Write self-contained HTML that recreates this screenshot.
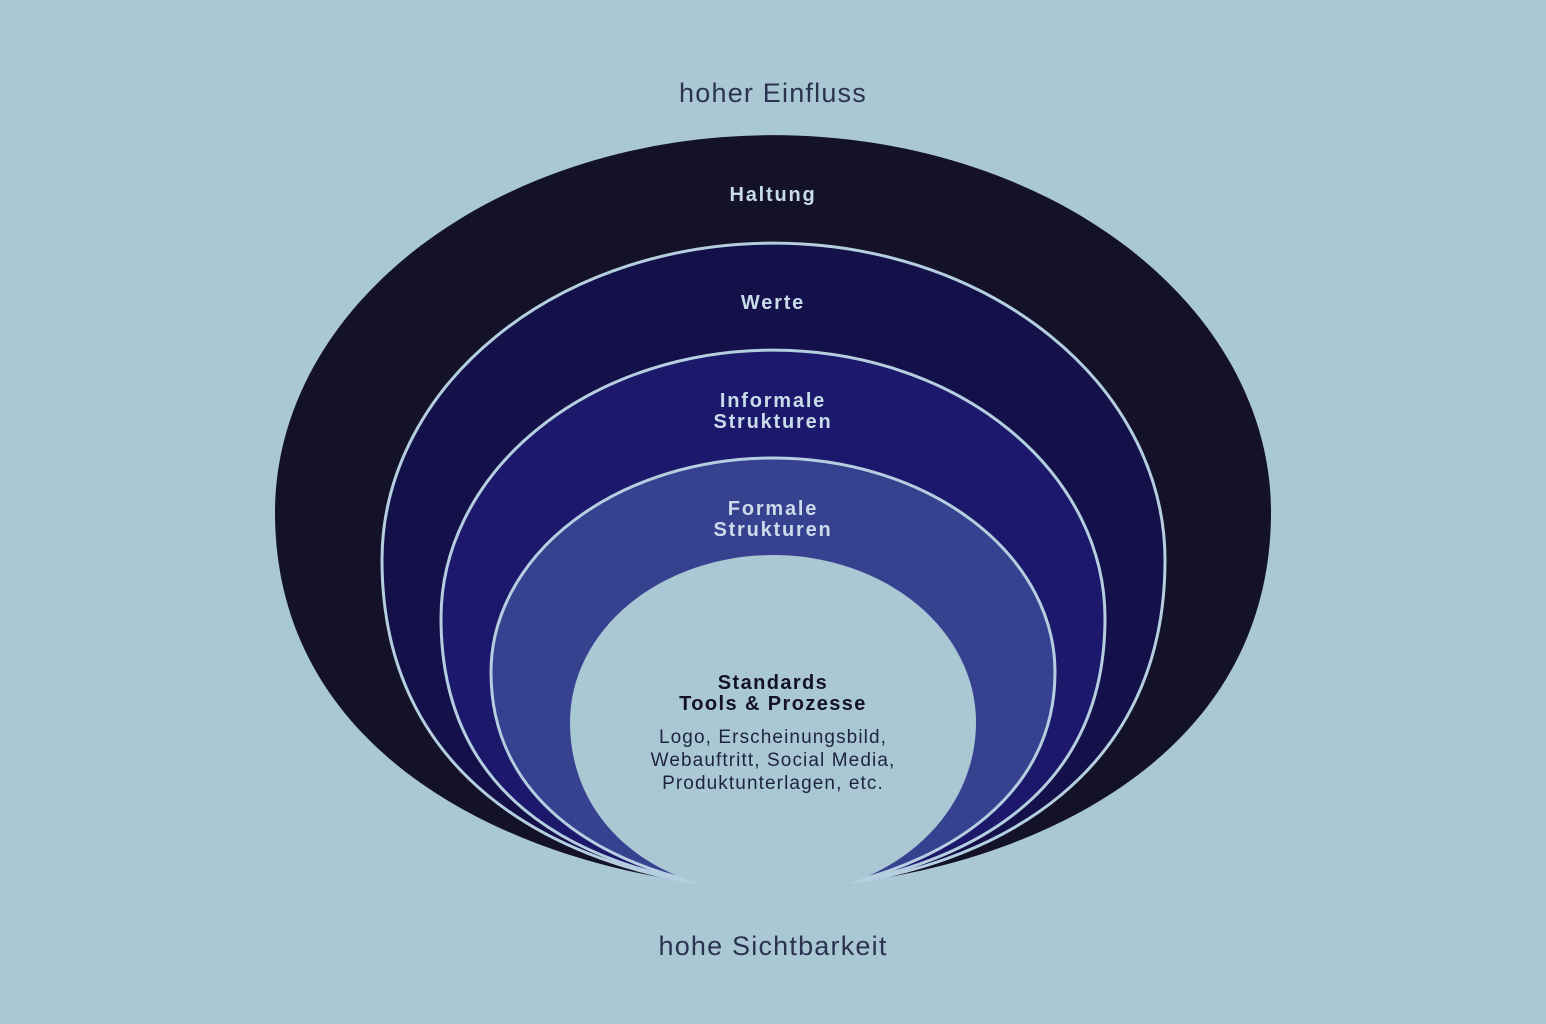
<!DOCTYPE html>
<html><head><meta charset="utf-8"><style>
html,body{margin:0;padding:0;background:#aac7d4;}
svg{display:block}
text{font-family:"Liberation Sans",sans-serif;}
</style></head><body>
<svg width="1546" height="1024" viewBox="0 0 1546 1024">
<rect width="1546" height="1024" fill="#aac7d4"/>
<text x="773" y="102" text-anchor="middle" font-size="27" fill="#2b3350" letter-spacing="1.2">hoher Einfluss</text>
<text x="773" y="955" text-anchor="middle" font-size="27" fill="#2b3350" letter-spacing="1.2">hohe Sichtbarkeit</text>

<path d="M692,882 C520,860 275,760 275,512 A498,377 0 0 1 1271,512 C1271,760 1030,860 856,882 Z" fill="#131228"/>
<path d="M692,882 C560,860 382,780 382,560 A391.5,317 0 0 1 1165,560 C1165,780 990,860 856,882 Z" fill="#13104a" stroke="#b5cfe0" stroke-width="3"/>
<path d="M694,882 C580,860 441,800 441,618 A332,268 0 0 1 1105,618 C1105,800 960,860 854,882 Z" fill="#1c186c" stroke="#b5cfe0" stroke-width="3"/>
<path d="M696,882 C600,860 491,800 491,672 A282,214 0 0 1 1055,672 C1055,800 940,860 852,882 Z" fill="#36428f" stroke="#b5cfe0" stroke-width="3"/>
<path d="M700,884 C620,860 570,800 570,722 A203,167 0 0 1 976,722 C976,800 920,860 848,884 Z" fill="#aac7d4"/>

<g font-weight="bold" font-size="20" fill="#c9dcea" text-anchor="middle" letter-spacing="1.8">
<text x="773" y="201">Haltung</text>
<text x="773" y="309">Werte</text>
<text x="773" y="407">Informale</text>
<text x="773" y="428">Strukturen</text>
<text x="773" y="515">Formale</text>
<text x="773" y="536">Strukturen</text>
</g>
<g text-anchor="middle" fill="#131228">
<text x="773" y="689" font-weight="bold" font-size="20" letter-spacing="1.4">Standards</text>
<text x="773" y="710" font-weight="bold" font-size="20" letter-spacing="1.4">Tools &amp; Prozesse</text>
<text x="773" y="743" font-size="19" fill="#1e2440" letter-spacing="1.1">Logo, Erscheinungsbild,</text>
<text x="773" y="766" font-size="19" fill="#1e2440" letter-spacing="1.1">Webauftritt, Social Media,</text>
<text x="773" y="789" font-size="19" fill="#1e2440" letter-spacing="1.1">Produktunterlagen, etc.</text>
</g>
</svg>
</body></html>
